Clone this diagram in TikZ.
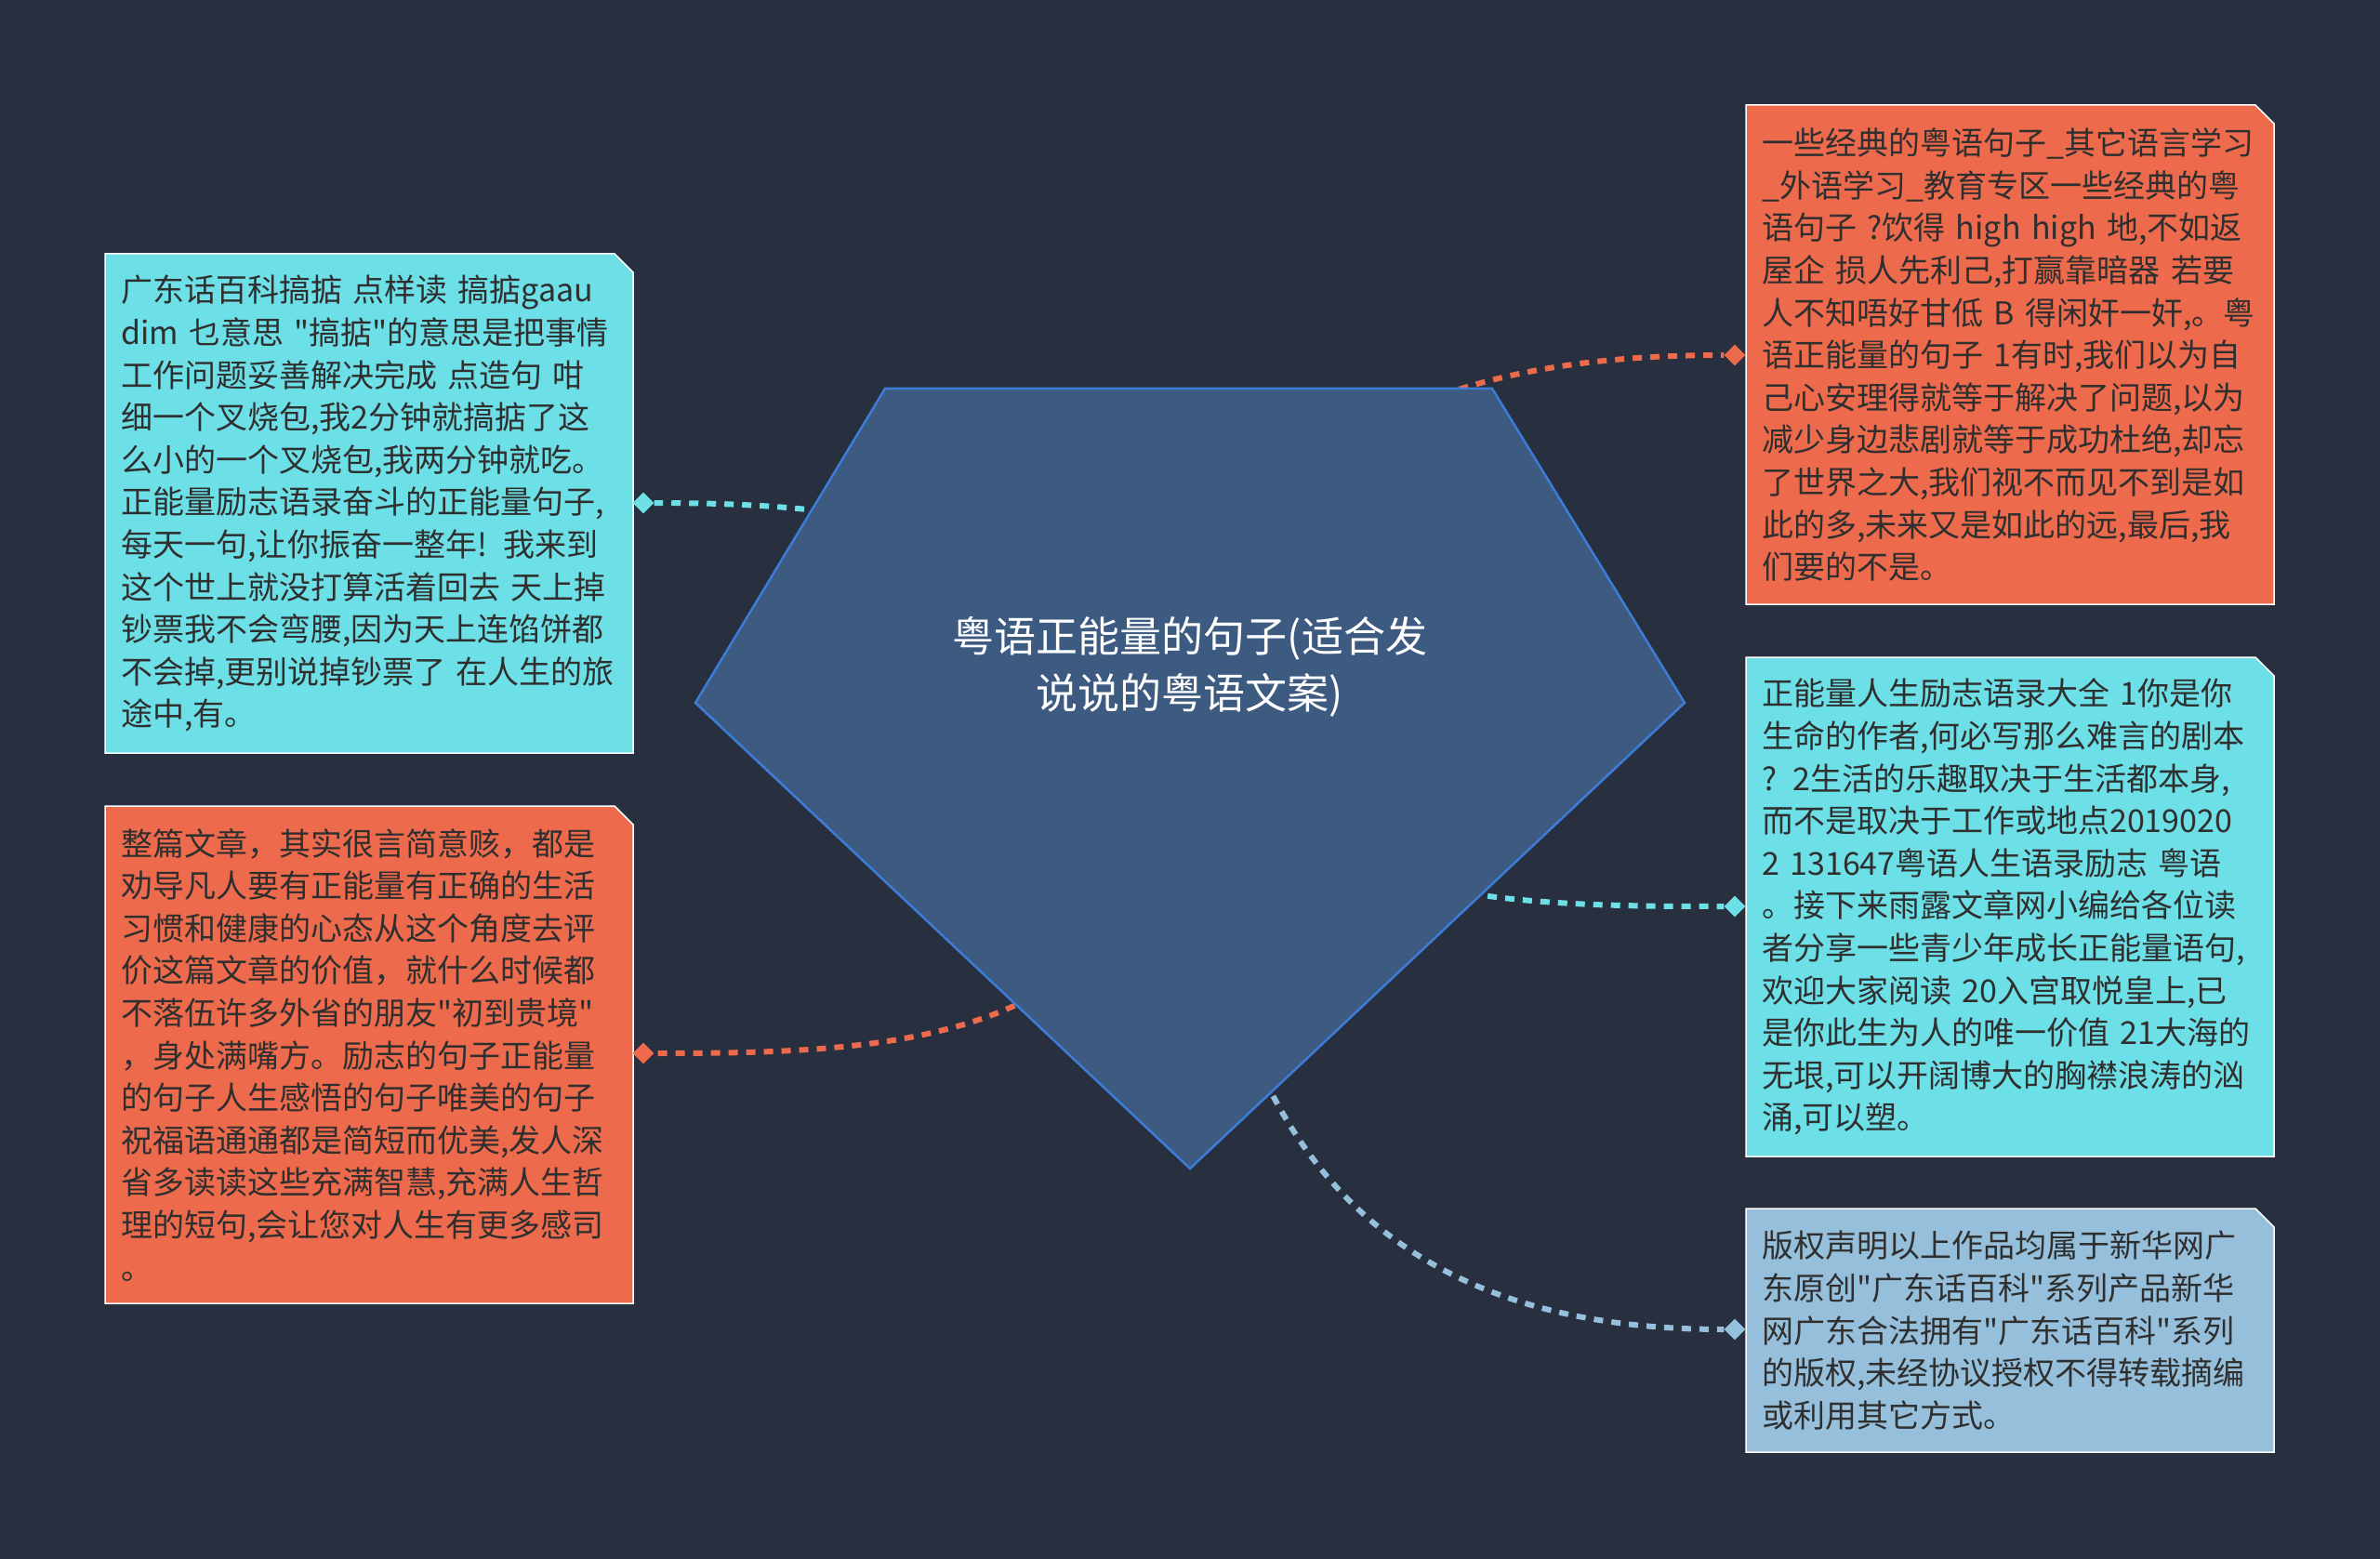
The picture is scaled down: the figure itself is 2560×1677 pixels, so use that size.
\documentclass[tikz,border=0pt]{standalone}
\usepackage{fontspec}
\setmainfont{Noto Sans CJK SC}[Ligatures=TeXOff]
\usetikzlibrary{shapes.geometric}
\definecolor{bgdark}{HTML}{282F3E}
\definecolor{leafcyan}{HTML}{6DDFE6}
\definecolor{leaforange}{HTML}{EE6A4C}
\definecolor{leafblue}{HTML}{95BFDA}
\definecolor{rootfill}{HTML}{3D5A80}
\definecolor{rootline}{HTML}{3B7DD8}
\definecolor{textdark}{HTML}{2F2F2F}
% chamfered card: x, y (top left), height, colour
\newcommand{\leafbox}[4]{
    \filldraw[fill=#4, draw=white, line width=1.5pt]
        (#1,#2) -- ++(548,0) -- ++(20,20) -- ++(0,#3-20)
        -- ++(-568,0) -- cycle;
}

\begin{document}
\begin{tikzpicture}[
        x=1pt, y=-1pt,
        leaf/.style={
            anchor=north west,
            minimum width=568pt,
            text width=534pt,
            inner xsep=17pt,
            inner ysep=0pt,
            align=left,
            text=textdark,
            font=\fontsize{34}{45.6}\selectfont,
        },
        knob/.style={
            diamond,
            inner sep=0pt,
            minimum size=23pt,
        },
        branch/.style={
            line width=6pt,
            dash pattern=on 10pt off 9pt,
        },
        rootshape/.style={
            fill=rootfill,
            draw=rootline,
            line width=2.5pt,
            line join=miter,
        }
    ]
    \fill[bgdark] (0,0) rectangle (2560,1677);

    % leaves
    \leafbox{113}{273}{537}{leafcyan}
    \leafbox{113}{867}{535}{leaforange}
    \leafbox{1878}{113}{537}{leaforange}
    \leafbox{1878}{707}{537}{leafcyan}
    \leafbox{1878}{1300}{262}{leafblue}
    \node[leaf, minimum height=537pt] (lt) at (113,273) {
        广东话百科搞掂 点样读 搞掂gaau\\
        dim 乜意思 "搞掂"的意思是把事情\\
        工作问题妥善解决完成 点造句 咁\\
        细一个叉烧包,我2分钟就搞掂了这\\
        么小的一个叉烧包,我两分钟就吃。\\
        正能量励志语录奋斗的正能量句子,\\
        每天一句,让你振奋一整年! 我来到\\
        这个世上就没打算活着回去 天上掉\\
        钞票我不会弯腰,因为天上连馅饼都\\
        不会掉,更别说掉钞票了 在人生的旅\\
        途中,有。};
    \node[leaf, minimum height=535pt] (lb) at (113,867) {
        整篇文章，其实很言简意赅，都是\\
        劝导凡人要有正能量有正确的生活\\
        习惯和健康的心态从这个角度去评\\
        价这篇文章的价值，就什么时候都\\
        不落伍许多外省的朋友"初到贵境"\\
        ，身处满嘴方。励志的句子正能量\\
        的句子人生感悟的句子唯美的句子\\
        祝福语通通都是简短而优美,发人深\\
        省多读读这些充满智慧,充满人生哲\\
        理的短句,会让您对人生有更多感司\\
        。};
    \node[leaf, minimum height=537pt] (rt) at (1878,113) {
        一些经典的粤语句子\_其它语言学习\\
        \_外语学习\_教育专区一些经典的粤\\
        语句子 ?饮得 high high 地,不如返\\
        屋企 损人先利己,打赢靠暗器 若要\\
        人不知唔好甘低 B 得闲奸一奸,。粤\\
        语正能量的句子 1有时,我们以为自\\
        己心安理得就等于解决了问题,以为\\
        减少身边悲剧就等于成功杜绝,却忘\\
        了世界之大,我们视不而见不到是如\\
        此的多,未来又是如此的远,最后,我\\
        们要的不是。};
    \node[leaf, minimum height=537pt] (rm) at (1878,707) {
        正能量人生励志语录大全 1你是你\\
        生命的作者,何必写那么难言的剧本\\
        ? 2生活的乐趣取决于生活都本身,\\
        而不是取决于工作或地点2019020\\
        2 131647粤语人生语录励志 粤语\\
        。接下来雨露文章网小编给各位读\\
        者分享一些青少年成长正能量语句,\\
        欢迎大家阅读 20入宫取悦皇上,已\\
        是你此生为人的唯一价值 21大海的\\
        无垠,可以开阔博大的胸襟浪涛的汹\\
        涌,可以塑。};
    \node[leaf, minimum height=262pt] (rb) at (1878,1300) {
        版权声明以上作品均属于新华网广\\
        东原创"广东话百科"系列产品新华\\
        网广东合法拥有"广东话百科"系列\\
        的版权,未经协议授权不得转载摘编\\
        或利用其它方式。};

    % diamonds at the leaves
    \node[knob, fill=leafcyan] (klt) at (692,541) {};
    \node[knob, fill=leaforange] (klb) at (692,1133) {};
    \node[knob, fill=leaforange] (krt) at (1866,382) {};
    \node[knob, fill=leafcyan] (krm) at (1866,975) {};
    \node[knob, fill=leafblue] (krb) at (1866,1430) {};

    % branches, under the pentagon
    \coordinate (root) at (1280,717);
    \foreach \k/\ax/\ay/\bx/\c in {
            klt/-180/-157/208/leafcyan,
            klb/0/403/308/leaforange,
            krt/70/-297/-216/leaforange,
            krm/50/253/-266/leafcyan,
            krb/0/533/-366/leafblue}{
        \draw[branch, \c] (root) .. controls +(\ax,\ay) and +(\bx,0) .. (\k);
    }

    % root
    \filldraw[rootshape] (952,418) -- (1605,418) -- (1812,756)
        -- (1280,1257) -- (748,756) -- cycle;
    \node[text=white, align=center, font=\fontsize{45}{61}\selectfont]
        (title) at (root) {粤语正能量的句子(适合发\\说说的粤语文案)};
\end{tikzpicture}
\end{document}
